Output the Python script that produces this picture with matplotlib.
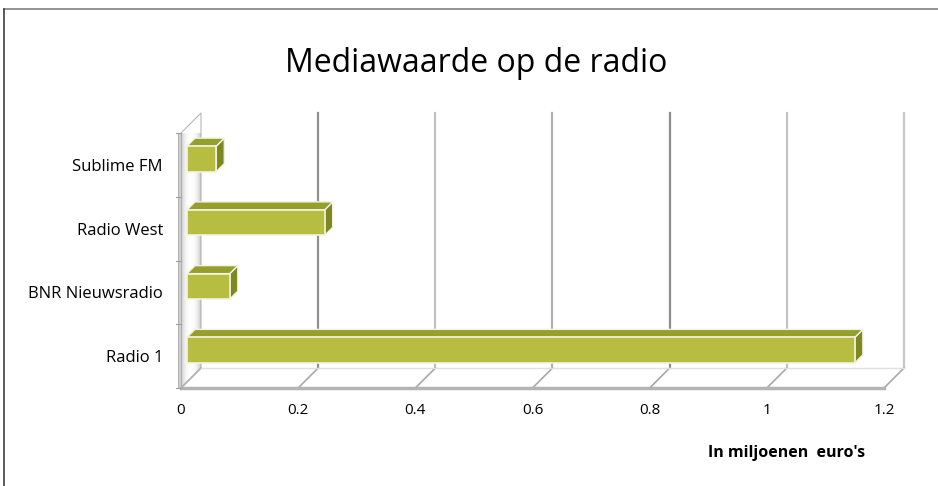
import matplotlib.pyplot as plt
from matplotlib.patches import Polygon, Rectangle
from matplotlib.lines import Line2D
import numpy as np

# data
stations = ["Radio 1", "BNR Nieuwsradio", "Radio West", "Sublime FM"]
values = [1.14, 0.073, 0.235, 0.05]
xticks = [0, 0.2, 0.4, 0.6, 0.8, 1.0, 1.2]
xtick_labels = ["0", "0.2", "0.4", "0.6", "0.8", "1", "1.2"]

plt.rcParams['font.family'] = ['Open Sans', 'DejaVu Sans']

fig = plt.figure(figsize=(9.38, 4.86), dpi=100)
ax = fig.add_axes([181 / 938, 98 / 486, 703 / 938, 255 / 486])
ax.set_xlim(0, 1.2)
ax.set_ylim(0, 4)
for s in ax.spines.values():
    s.set_visible(False)

# depth of the 3d box, in data units (about 20 px each way)
DX = 20 / 586.0
DY = 20 / 63.75
ntop = len(stations)

# left wall with a soft gradient
wall = Polygon([(0, 0), (DX, DY), (DX, ntop + DY), (0, ntop)], closed=True,
               facecolor="none", edgecolor="#b8b8b8", lw=0.8, clip_on=False, zorder=2)
ax.add_patch(wall)
grad = np.linspace(0, 1, 64)
shade = 0.72 + 0.28 * np.sin(np.pi * grad) ** 0.5
img = ax.imshow(np.tile(shade, (4, 1)), extent=[0, DX, 0, ntop + DY], cmap="gray",
                vmin=0, vmax=1, aspect="auto", zorder=1, clip_on=True)
img.set_clip_path(wall)
ax.add_patch(Rectangle((-0.005, 0), 0.005, ntop, facecolor="#cfcfcf",
                       edgecolor="#a8a8a8", lw=0.6, clip_on=False, zorder=2))
for i in range(ntop + 1):
    ax.plot([-0.008, 0], [i, i], color="#a0a0a0", lw=0.8, clip_on=False, zorder=3)

# floor and back wall gridlines
grid_cols = ["#c8c8c8", "#909090", "#c0c0c0", "#b0b0b0", "#8c8c8c", "#c4c4c4", "#c8c8c8"]
for t, gc in zip(xticks, grid_cols):
    if t > 0:
        ax.plot([t + DX, t + DX], [DY, ntop + DY], color=gc, lw=1.6, clip_on=False, zorder=1)
    ax.plot([t, t + DX], [0, DY], color="#a8a8a8", lw=1.2, clip_on=False, zorder=1)
ax.plot([0, 1.2], [0, 0], color="#b4b4b4", lw=2.5, clip_on=False, zorder=2)
ax.plot([DX, 1.2 + DX], [DY, DY], color="#e0e0e0", lw=1.0, clip_on=False, zorder=1)

# 3d bars
f0, f1 = 0.3, 0.7
h = 0.2
for i, v in enumerate(values):
    c = i + 0.5
    x0, y0 = DX * f0, DY * f0
    x1, y1 = DX * f1, DY * f1
    front = Polygon([(x0, c - h + y0), (v + x0, c - h + y0), (v + x0, c + h + y0), (x0, c + h + y0)],
                    facecolor="#b6bd41", edgecolor="#f2f2e4", lw=1.2, clip_on=False, zorder=5)
    top = Polygon([(x0, c + h + y0), (v + x0, c + h + y0), (v + x1, c + h + y1), (x1, c + h + y1)],
                  facecolor="#959f2c", edgecolor="#f2f2e4", lw=1.0, clip_on=False, zorder=4)
    side = Polygon([(v + x0, c - h + y0), (v + x0, c + h + y0), (v + x1, c + h + y1), (v + x1, c - h + y1)],
                   facecolor="#7e8822", edgecolor="#f2f2e4", lw=1.0, clip_on=False, zorder=4)
    ax.add_patch(side)
    ax.add_patch(top)
    ax.add_patch(front)

ax.set_xticks(xticks)
ax.set_xticklabels(xtick_labels, fontsize=11)
ax.set_yticks([i + 0.5 for i in range(ntop)])
ax.set_yticklabels(stations, fontsize=12)
ax.tick_params(axis="x", length=0, pad=11)
ax.tick_params(axis="y", length=0, pad=13)

fig.text(476.5 / 938, 1 - 63 / 486, "Mediawaarde op de radio", ha="center", va="center", fontsize=23)
fig.text(787 / 938, 1 - 453 / 486, "In miljoenen  euro's", ha="center", va="center",
         fontsize=11.5, fontweight="bold")

# chart border
fig.add_artist(Line2D([4 / 938, 1], [1 - 9 / 486, 1 - 9 / 486], color="#808080", lw=1.2))
fig.add_artist(Line2D([4 / 938, 4 / 938], [0, 1 - 9 / 486], color="#404040", lw=1.2))

fig.savefig("out.png", dpi=100)
